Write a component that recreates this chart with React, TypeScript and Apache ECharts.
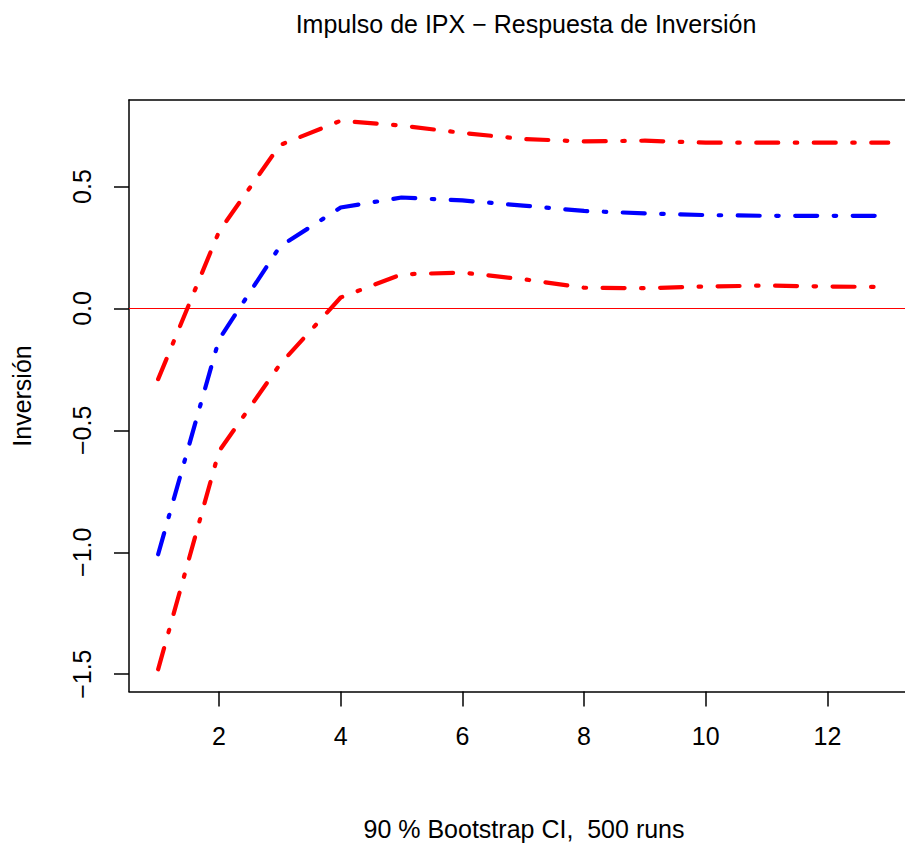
import React, { useEffect, useRef } from "react";
import * as echarts from "echarts";

const periods = [1, 2, 3, 4, 5, 6, 7, 8, 9, 10, 11, 12, 13];
const irfValues = [-1.008, -0.127, 0.254, 0.414, 0.455, 0.443, 0.422, 0.4, 0.39, 0.383, 0.38, 0.38, 0.38];
const lowerValues = [-1.48, -0.586, -0.23, 0.045, 0.14, 0.147, 0.12, 0.085, 0.083, 0.09, 0.094, 0.09, 0.088];
const upperValues = [-0.29, 0.315, 0.67, 0.77, 0.75, 0.72, 0.695, 0.685, 0.688, 0.68, 0.68, 0.68, 0.68];
const xTicks = [2, 4, 6, 8, 10, 12];
const yTicks = [-1.5, -1.0, -0.5, 0.0, 0.5];

const titleText = "Impulso de IPX \u2212 Respuesta de Inversi\u00f3n";
const xLabelText = "90 % Bootstrap CI,  500 runs";
const yLabelText = "Inversi\u00f3n";

const FONT = "'Liberation Sans', Arial, Helvetica, sans-serif";
const FS = 25;
const DASH = [22, 16.5, 2.5, 16.5];

export default function App() {
  const ref = useRef<HTMLDivElement>(null);
  useEffect(() => {
    if (!ref.current) return;
    const chart = echarts.init(ref.current, null, { renderer: "svg" });
    const pair = (vals: number[]) => periods.map((p, i) => [p, vals[i]]);
    const lineStyleFor = (color: string) => ({
      color,
      width: 4.2,
      type: DASH,
      cap: "round",
      join: "round",
    });
    const txt = (text: string, x: number, y: number, rot = 0) => ({
      type: "text",
      x,
      y,
      rotation: rot,
      style: {
        text,
        font: `${FS}px ${FONT}`,
        lineHeight: FS,
        fill: "#000",
        align: "center",
        verticalAlign: "middle",
      },
    });
    chart.setOption({
      animation: false,
      backgroundColor: "#ffffff",
      textStyle: { fontFamily: FONT },
      graphic: [
        txt(titleText, 526, 24),
        txt(xLabelText, 524, 829),
        txt(yLabelText, 22, 396, Math.PI / 2),
      ],
      grid: { left: 129, right: 0, top: 100, bottom: 151.5, containLabel: false },
      xAxis: [
        {
          type: "value",
          min: 0.521,
          max: 13.275,
          position: "bottom",
          splitLine: { show: false },
          axisLine: { show: true, onZero: false, lineStyle: { color: "#000", width: 1.5 } },
          axisTick: { show: true, length: 15, customValues: xTicks, lineStyle: { color: "#000", width: 1.5 } },
          axisLabel: {
            show: true,
            customValues: xTicks,
            margin: 32,
            fontSize: FS,
            fontFamily: FONT,
            color: "#000",
            formatter: (v: number) => String(v),
          },
        },
        {
          type: "value",
          min: 0.521,
          max: 13.275,
          position: "top",
          splitLine: { show: false },
          axisLine: { show: true, onZero: false, lineStyle: { color: "#000", width: 1.5 } },
          axisTick: { show: false },
          axisLabel: { show: false },
        },
      ],
      yAxis: {
        type: "value",
        min: -1.571,
        max: 0.855,
        splitLine: { show: false },
        axisLine: { show: true, onZero: false, lineStyle: { color: "#000", width: 1.5 } },
        axisTick: { show: true, length: 15, customValues: yTicks, lineStyle: { color: "#000", width: 1.5 } },
        axisLabel: {
          show: true,
          customValues: yTicks,
          rotate: 90,
          margin: 35,
          fontSize: FS,
          fontFamily: FONT,
          color: "#000",
          formatter: (v: number) => v.toFixed(1).replace("-", "\u2212"),
        },
      },
      series: [
        {
          name: "irf",
          type: "line",
          data: pair(irfValues),
          showSymbol: false,
          symbol: "none",
          lineStyle: lineStyleFor("#0000ff"),
          markLine: {
            silent: true,
            symbol: "none",
            label: { show: false },
            lineStyle: { color: "#ff0000", width: 1.2, type: "solid" },
            data: [{ yAxis: 0 }],
          },
        },
        {
          name: "lower",
          type: "line",
          data: pair(lowerValues),
          showSymbol: false,
          symbol: "none",
          lineStyle: lineStyleFor("#ff0000"),
        },
        {
          name: "upper",
          type: "line",
          data: pair(upperValues),
          showSymbol: false,
          symbol: "none",
          lineStyle: lineStyleFor("#ff0000"),
        },
      ],
    });
    return () => chart.dispose();
  }, []);
  return (
    <div
      ref={ref}
      style={{ position: "fixed", left: 0, top: 0, width: 905, height: 843, background: "#fff" }}
    />
  );
}
